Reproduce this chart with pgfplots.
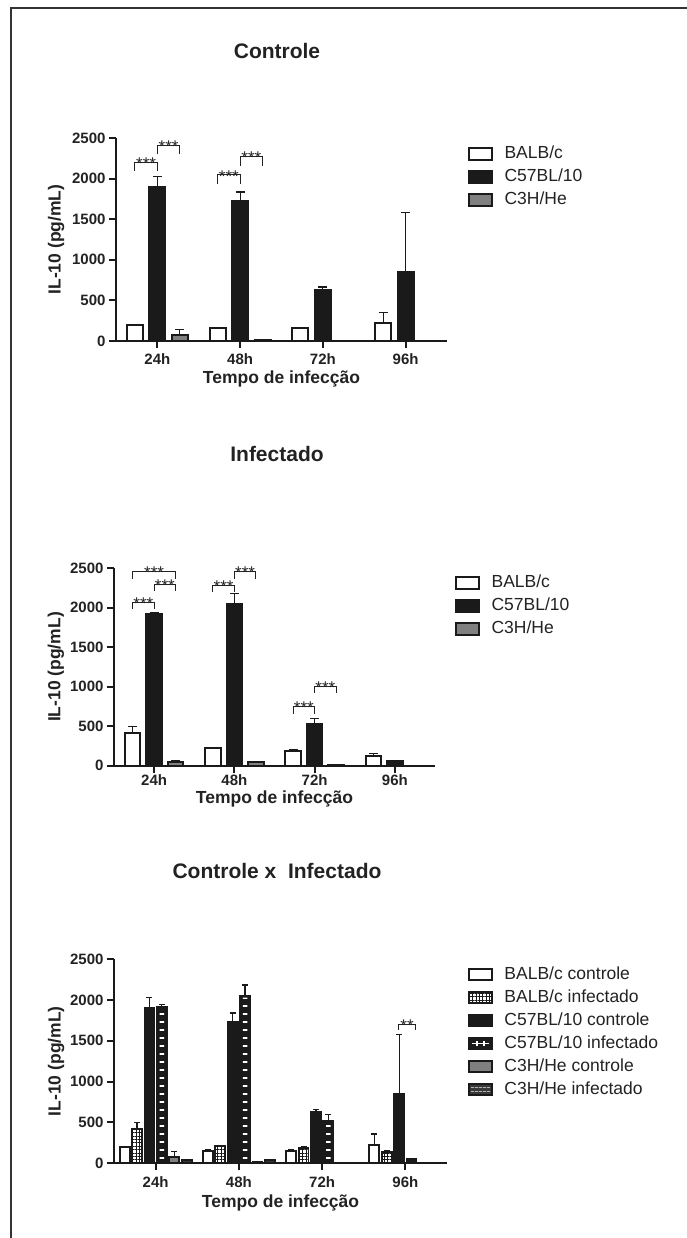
\documentclass[border=0pt]{standalone}
\usepackage{fontspec}
\setmainfont{Liberation Sans}
\usepackage{pgfplots}
\pgfplotsset{compat=1.18}
\usetikzlibrary{patterns.meta}
\newcommand\fs[1]{\fontsize{#1}{#1}\selectfont}
\definecolor{barblack}{HTML}{1A1A1A}
\definecolor{bargray}{HTML}{808080}
\definecolor{bardark}{HTML}{383838}
\definecolor{txt}{HTML}{222222}

\pgfplotsset{
  panel/.style={
    scale only axis,
    axis lines=left,
    axis line style={-, line width=2pt, barblack},
    ymin=0, ymax=2500, ytick={0,500,1000,1500,2000,2500},
    xmin=-0.5, xmax=3.5, xtick={0,1,2,3}, xticklabels={24h,48h,72h,96h},
    tick style={line width=2pt, barblack},
    major tick length=7pt,
    tick align=outside,
    tick label style={font=\bfseries\fs{15}, text=txt},
    /pgf/number format/assume math mode=true,
    /pgf/number format/1000 sep={},
    xlabel={Tempo de infecção},
    ylabel={IL-10 (pg/mL)},
    label style={font=\bfseries\fs{17.5}, text=txt},
    ybar,
    clip=false,
    error bars/y dir=plus,
    error bars/y explicit,
    error bars/error bar style={line width=1.2pt, barblack},
    error bars/error mark options={rotate=90, mark size=4.5pt, line width=1.2pt, barblack},
    legend style={draw=none, fill=none, font=\fs{17.5}, text=txt, anchor=north west,
      row sep=4pt, inner sep=0pt,
      nodes={text height=12.5pt, text depth=3.5pt, inner sep=1.5pt},
      /tikz/every odd column/.append style={column sep=10pt}},
    legend cell align=left,
    legend image code/.code={\draw[#1] (0pt,-5.75pt) rectangle (23pt,5.75pt);},
  },
  bal/.style={fill=white, draw=barblack, line width=2pt},
  c57/.style={fill=barblack, draw=barblack, line width=2pt},
  c3h/.style={fill=bargray, draw=barblack, line width=2pt},
}
% significance bracket: x1, x2, y, text ; drop length in \sigdrop
\def\sigdrop{8pt}
\newcommand\sig[4]{%
  \draw[line width=0.9pt, txt] ([yshift=-\sigdrop]axis cs:#1,#3) -- (axis cs:#1,#3) -- (axis cs:#2,#3) -- ([yshift=-\sigdrop]axis cs:#2,#3);
  \node[font=\fs{17}, text=txt, inner sep=0pt, anchor=base] at ([yshift=-7.2pt]axis cs:{(#1+#2)/2},#3) {#4};}

\begin{document}
\begin{tikzpicture}[x=1pt,y=1pt]
\useasboundingbox (0,0) rectangle (686,-1238);
\draw[line width=2.8pt, black!80] (11,-1245) -- (11,-8) -- (695,-8);

\node[font=\bfseries\fs{21}, text=txt] at (277,-51) {Controle};
\node[font=\bfseries\fs{21}, text=txt] at (277,-454) {Infectado};
\node[font=\bfseries\fs{21}, text=txt] at (277,-871) {Controle x\ \ Infectado};

% ---------------- Panel 1: Controle
\def\sigdrop{9pt}
\begin{axis}[panel, at={(116pt,-341pt)}, anchor=south west,
  width=331pt, height=203pt, bar width=16pt,
  xticklabel style={yshift=-2pt},
  x label style={at={(axis description cs:0.5,0)}, anchor=center, yshift=-38pt},
  y label style={at={(axis description cs:-0.181,0.5)}, anchor=center},
  legend style={at={(1.063,0.969)}}]
\addplot[bal, bar shift=-22.5pt] coordinates {(0,200) +- (0,8) (1,160) +- (0,6) (2,160) +- (0,6) (3,220) +- (0,135)};
\addplot[c57, bar shift=0pt] coordinates {(0,1900) +- (0,125) (1,1730) +- (0,105) (2,630) +- (0,35) (3,850) +- (0,735)};
\addplot[c3h, bar shift=22.5pt] coordinates {(0,80) +- (0,65) (1,15) +- (0,0)};
\legend{BALB/c, C57BL/10, C3H/He}
\sig{-0.272}{0}{2205}{***}
\sig{0}{0.272}{2410}{***}
\sig{0.728}{1}{2045}{***}
\sig{1}{1.272}{2270}{***}
\end{axis}

% ---------------- Panel 2: Infectado
\def\sigdrop{7pt}
\begin{axis}[panel, at={(114pt,-765.7pt)}, anchor=south west,
  width=321pt, height=197.4pt, bar width=15.7pt,
  xticklabel style={yshift=2pt},
  x label style={at={(axis description cs:0.5,0)}, anchor=center, yshift=-33pt},
  y label style={at={(axis description cs:-0.181,0.5)}, anchor=center},
  legend style={at={(1.062,0.975)}}]
\addplot[bal, bar shift=-21.5pt] coordinates {(0,420) +- (0,75) (1,220) +- (0,0) (2,190) +- (0,17) (3,125) +- (0,25)};
\addplot[c57, bar shift=0pt] coordinates {(0,1915) +- (0,27) (1,2045) +- (0,135) (2,530) +- (0,65) (3,60) +- (0,0)};
\addplot[c3h, bar shift=21.5pt] coordinates {(0,43) +- (0,17) (1,45) +- (0,0) (2,10) +- (0,0)};
\legend{BALB/c, C57BL/10, C3H/He}
\sig{-0.268}{0}{2072}{***}
\sig{0}{0.268}{2300}{***}
\sig{-0.268}{0.268}{2456}{***}
\sig{0.732}{1}{2287}{***}
\sig{1}{1.268}{2456}{***}
\sig{1.732}{2}{747}{***}
\sig{2}{2.268}{1009}{***}
\end{axis}

% ---------------- Panel 3: Controle x Infectado
\def\sigdrop{6pt}
\begin{axis}[panel, at={(114pt,-1163.3pt)}, anchor=south west,
  width=333pt, height=204.2pt, bar width=10pt,
  xticklabel style={yshift=-2.5pt},
  x label style={at={(axis description cs:0.5,0)}, anchor=center, yshift=-40pt},
  y label style={at={(axis description cs:-0.174,0.5)}, anchor=center},
  error bars/error mark options={rotate=90, mark size=3pt, line width=1.2pt, barblack},
  legend style={at={(1.063,0.972)}}]
\addplot[bal, line width=1.8pt, bar shift=-31pt] coordinates {(0,200) +- (0,10) (1,155) +- (0,8) (2,155) +- (0,8) (3,220) +- (0,140)};
\addplot[draw=barblack, line width=1.8pt, pattern={Hatch[angle=0, distance=3.4pt, line width=0.9pt]}, pattern color=barblack, bar shift=-18.6pt] coordinates {(0,420) +- (0,75) (1,215) +- (0,5) (2,190) +- (0,20) (3,140) +- (0,20)};
\addplot[c57, line width=1.8pt, bar shift=-6.2pt] coordinates {(0,1898) +- (0,130) (1,1730) +- (0,110) (2,632) +- (0,30) (3,845) +- (0,730)};
\addplot[c57, line width=1.8pt, bar shift=6.2pt,
  legend image code/.code={\draw[fill=barblack, draw=barblack, line width=1.8pt] (0pt,-5.75pt) rectangle (23pt,5.75pt);
    \draw[white, line width=1.3pt] (3pt,0pt) -- (20pt,0pt);
    \draw[white, line width=1.3pt] (8pt,-2.5pt) -- (8pt,2.5pt) (15pt,-2.5pt) -- (15pt,2.5pt);}]
  coordinates {(0,1915) +- (0,30) (1,2048) +- (0,135) (2,525) +- (0,70) (3,60) +- (0,0)};
\addplot[c3h, line width=1.8pt, bar shift=18.6pt] coordinates {(0,75) +- (0,68) (1,15) +- (0,0)};
\addplot[fill=bardark, draw=barblack, line width=1.8pt, bar shift=31pt,
  legend image code/.code={\draw[fill=bardark, draw=barblack, line width=1.8pt] (0pt,-5.75pt) rectangle (23pt,5.75pt);
    \draw[gray!60, line width=0.8pt, dash pattern=on 3pt off 1pt] (1.5pt,-1.8pt) -- (21.5pt,-1.8pt) (1.5pt,1.8pt) -- (21.5pt,1.8pt);}]
  coordinates {(0,40) +- (0,5) (1,42) +- (0,5) (2,10) +- (0,0)};
% white dashes overlay on C57BL/10 infectado
\addplot[forget plot, draw=none, bar width=4.5pt, bar shift=6.2pt, pattern={Lines[angle=0, distance=8pt, line width=1.3pt]}, pattern color=white, error bars/y dir=none]
  coordinates {(0,1895) (1,2030) (2,510)};
\legend{BALB/c controle, BALB/c infectado, C57BL/10 controle, C57BL/10 infectado, C3H/He controle, C3H/He infectado}
\sig{2.92}{3.12}{1702}{**}
\end{axis}
\end{tikzpicture}
\end{document}
